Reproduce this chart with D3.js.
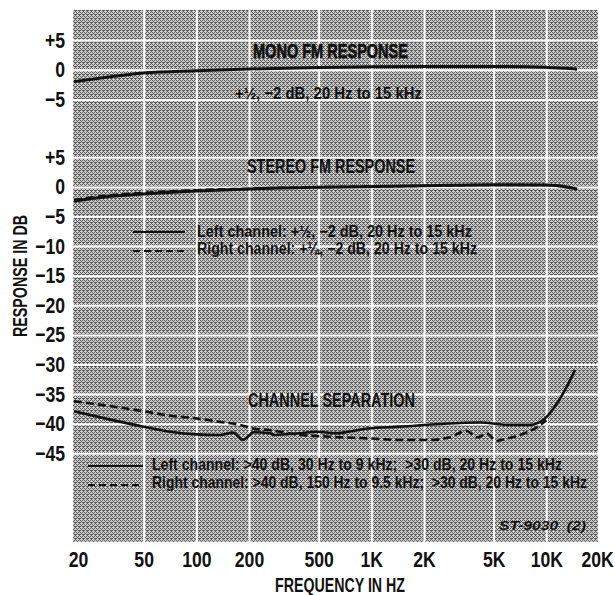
<!DOCTYPE html>
<html>
<head>
<meta charset="utf-8">
<script src="https://cdn.jsdelivr.net/npm/d3@7"></script>
<style>
  body { margin: 0; background: #fff; }
  svg { display: block; }
  text { font-family: "Liberation Sans", Arial, sans-serif; fill: #111; }
</style>
</head>
<body>
<script>
// frequency axis
const freqTicks = [20, 50, 100, 200, 500, 1000, 2000, 5000, 10000, 20000];
const freqLabels = ["20", "50", "100", "200", "500", "1K", "2K", "5K", "10K", "20K"];
const gridFreqs = [50, 100, 200, 500, 1000, 2000, 5000, 10000];

// response axes (two stacked panels share one frame)
const monoTicks = [5, 0, -5];
const stereoTicks = [5, 0, -5, -10, -15, -20, -25, -30, -35, -40, -45];

// mono FM response
const monoFreq = [20, 30, 50, 100, 200, 500, 1000, 2000, 5000, 10000, 13000, 15000];
const monoDb = [-2.0, -1.3, -0.55, -0.17, 0.12, 0.39, 0.5, 0.55, 0.55, 0.4, 0.25, 0.1];

// stereo FM response
const stereoFreq = [20, 30, 50, 100, 200, 300, 500, 2000, 5000, 10000, 13000, 15000];
const stereoLeftDb = [-2.4, -1.7, -1.2, -0.7, -0.35, -0.2, -0.07, 0.2, 0.37, 0.32, 0.0, -0.35];
const stereoRightDb = [-2.2, -1.5, -1.0, -0.55, -0.3, -0.15, -0.05, 0.18, 0.33, 0.3, 0.0, -0.3];

// channel separation
const sepLeftFreq = [20, 30, 50, 71, 100, 137, 162, 185, 197, 211, 264, 278, 391, 496, 620, 957, 1460, 2470, 4180, 6200, 8070, 9830, 11200, 12800, 14600];
const sepLeftDb = [-37.9, -39.1, -40.5, -41.35, -41.8, -41.9, -41.5, -42.75, -42.2, -41.45, -41.6, -41.9, -41.6, -41.35, -41.6, -40.8, -40.5, -40.05, -39.8, -40.2, -40.2, -39.1, -37.1, -34.3, -30.9];
const sepRightFreq = [20, 30, 50, 71, 100, 137, 178, 211, 264, 391, 581, 983, 1460, 2160, 2820, 3480, 4020, 4580, 5220, 5810, 7070, 8620, 10000];
const sepRightDb = [-36.2, -36.9, -37.9, -38.65, -39.1, -39.7, -40.2, -40.8, -41.1, -41.9, -42.2, -42.5, -42.75, -42.75, -42.3, -41.2, -42.3, -41.7, -42.9, -42.6, -41.9, -40.8, -39.4];

const width = 615, height = 595;
const frame = { left: 73, top: 10, right: 598, bottom: 542 };
const squeeze = 0.8; // condensed look for the axis lettering

const svg = d3.select("body").append("svg")
  .attr("width", width)
  .attr("height", height);

// halftone screen, a 4x4 cell of dark dots on light
const screenDots = [
  [0, 0], [2, 0],
  [1, 1],
  [0, 2], [2, 2], [3, 2],
  [3, 3]
];
const defs = svg.append("defs");
const pat = defs.append("pattern")
  .attr("id", "screen")
  .attr("width", 4).attr("height", 4)
  .attr("patternUnits", "userSpaceOnUse");
pat.append("rect").attr("width", 4).attr("height", 4).attr("fill", "#cfcfcf");
pat.selectAll("rect.dot")
  .data(screenDots)
  .join("rect")
  .attr("class", "dot")
  .attr("x", d => d[0]).attr("y", d => d[1])
  .attr("width", 1).attr("height", 1)
  .attr("fill", "#575757");

svg.append("rect")
  .attr("x", frame.left).attr("y", frame.top)
  .attr("width", frame.right - frame.left)
  .attr("height", frame.bottom - frame.top)
  .attr("fill", "url(#screen)");

const x = d3.scaleLog().domain([20, 20000]).range([74, 599]);
const yMono = d3.scaleLinear().domain([5, -5]).range([40, 99.5]);
const yStereo = d3.scaleLinear().domain([5, -45]).range([157.3, 453.3]);

// grid
svg.append("g")
  .attr("transform", `translate(0,${frame.bottom})`)
  .call(d3.axisBottom(x).tickValues(gridFreqs).tickFormat("").tickSize(-(frame.bottom - frame.top)))
  .call(g => g.select(".domain").remove())
  .call(g => g.selectAll("line").attr("stroke", "#fff").attr("stroke-width", 2));

[[yMono, monoTicks], [yStereo, stereoTicks]].forEach(([y, ticks]) => {
  svg.append("g")
    .attr("transform", `translate(${frame.left},0)`)
    .call(d3.axisLeft(y).tickValues(ticks).tickFormat("").tickSize(-(frame.right - frame.left)))
    .call(g => g.select(".domain").remove())
    .call(g => g.selectAll("line").attr("stroke", "#fff").attr("stroke-width", 2));
});

// tick labels
const fmtDb = d => d > 0 ? "+" + d : d < 0 ? "\u2212" + Math.abs(d) : "0";
function styleTicks(g) {
  g.select(".domain").remove();
  g.selectAll("text")
    .attr("font-size", 22).attr("font-weight", "bold")
    .style("font-family", '"Liberation Sans", Arial, sans-serif')
    .attr("fill", "#111")
    .attr("transform", `scale(${squeeze},1)`);
}

[[yMono, monoTicks], [yStereo, stereoTicks]].forEach(([y, ticks]) => {
  svg.append("g")
    .attr("transform", `translate(${frame.left},0)`)
    .call(d3.axisLeft(y).tickValues(ticks).tickFormat(fmtDb).tickSize(0).tickPadding(8))
    .call(styleTicks)
    .call(g => g.selectAll("text").attr("x", -8 / squeeze));
});

svg.append("g")
  .attr("transform", `translate(0,${frame.bottom})`)
  .call(d3.axisBottom(x).tickValues(freqTicks).tickFormat((d, i) => freqLabels[i]).tickSize(0).tickPadding(9))
  .call(styleTicks)
  .call(g => g.selectAll("text").filter(d => d === 20).attr("x", 4 / squeeze))
  .call(g => g.selectAll("text").filter(d => d === 20000).attr("x", -2 / squeeze));

// headings and captions
function label(txt, x0, y0, size, len, weight) {
  return svg.append("text")
    .attr("x", x0).attr("y", y0)
    .attr("font-size", size)
    .attr("font-weight", weight || "normal")
    .attr("textLength", len)
    .attr("lengthAdjust", "spacingAndGlyphs")
    .text(txt);
}

// long captions: smaller type stretched upward so the run fits its width
function tallLabel(txt, x0, y0, size, stretch, len) {
  svg.append("g")
    .attr("transform", `translate(${x0},${y0}) scale(1,${stretch})`)
    .append("text")
    .attr("font-size", size)
    .attr("font-weight", "bold")
    .attr("textLength", len)
    .attr("lengthAdjust", "spacingAndGlyphs")
    .text(txt);
}

label("FREQUENCY IN HZ", 275, 592, 21, 130, "bold");

svg.append("text")
  .attr("transform", "translate(27,337) rotate(-90)")
  .attr("font-size", 21).attr("font-weight", "bold")
  .attr("textLength", 122)
  .attr("lengthAdjust", "spacingAndGlyphs")
  .text("RESPONSE IN DB");

// curves
function drawCurve(freqs, vals, y, dashed, w) {
  const line = d3.line()
    .x((d, i) => x(freqs[i]))
    .y(d => y(d))
    .curve(d3.curveMonotoneX);
  svg.append("path")
    .datum(vals)
    .attr("d", line)
    .attr("fill", "none")
    .attr("stroke", "#111")
    .attr("stroke-width", w)
    .attr("stroke-dasharray", dashed ? "8,4" : null);
}

drawCurve(monoFreq, monoDb, yMono, false, 3);
drawCurve(stereoFreq, stereoLeftDb, yStereo, false, 3);
drawCurve(stereoFreq, stereoRightDb, yStereo, true, 2.5);
drawCurve(sepLeftFreq, sepLeftDb, yStereo, false, 2.6);
drawCurve(sepRightFreq, sepRightDb, yStereo, true, 2.6);

label("MONO FM RESPONSE", 253, 58, 20, 155, "bold").attr("stroke", "#111").attr("stroke-width", 0.7);
label("+\u00bd, \u22122 dB, 20 Hz to 15 kHz", 235, 99, 17, 187, "bold");
label("STEREO FM RESPONSE", 247, 173, 20, 168, "bold");

// stereo legend
svg.append("line").attr("x1", 133).attr("x2", 185).attr("y1", 232).attr("y2", 232)
  .attr("stroke", "#111").attr("stroke-width", 2);
svg.append("line").attr("x1", 133).attr("x2", 185).attr("y1", 251).attr("y2", 251)
  .attr("stroke", "#111").attr("stroke-width", 2).attr("stroke-dasharray", "7,4");
label("Left channel: +\u00bd, \u22122 dB, 20 Hz to 15 kHz", 197, 237, 16, 275, "bold");
label("Right channel: +\u00bc, \u22122 dB, 20 Hz to 15 kHz", 197, 254, 16, 280, "bold");

label("CHANNEL SEPARATION", 248, 407, 20, 167, "bold");

// separation legend
svg.append("line").attr("x1", 88).attr("x2", 143).attr("y1", 466).attr("y2", 466)
  .attr("stroke", "#111").attr("stroke-width", 2);
svg.append("line").attr("x1", 88).attr("x2", 143).attr("y1", 485).attr("y2", 485)
  .attr("stroke", "#111").attr("stroke-width", 2).attr("stroke-dasharray", "7,4");
tallLabel("Left channel: >40 dB, 30 Hz to 9 kHz;\u00a0 >30 dB, 20 Hz to 15 kHz", 152, 470, 13.5, 16 / 13.5, 410);
tallLabel("Right channel: >40 dB, 150 Hz to 9.5 kHz;\u00a0 >30 dB, 20 Hz to 15 kHz", 152, 488, 13.5, 16 / 13.5, 435);

label("ST-9030\u00a0 (2)", 499, 530, 13, 87, "bold").attr("font-style", "italic");
</script>
</body>
</html>
